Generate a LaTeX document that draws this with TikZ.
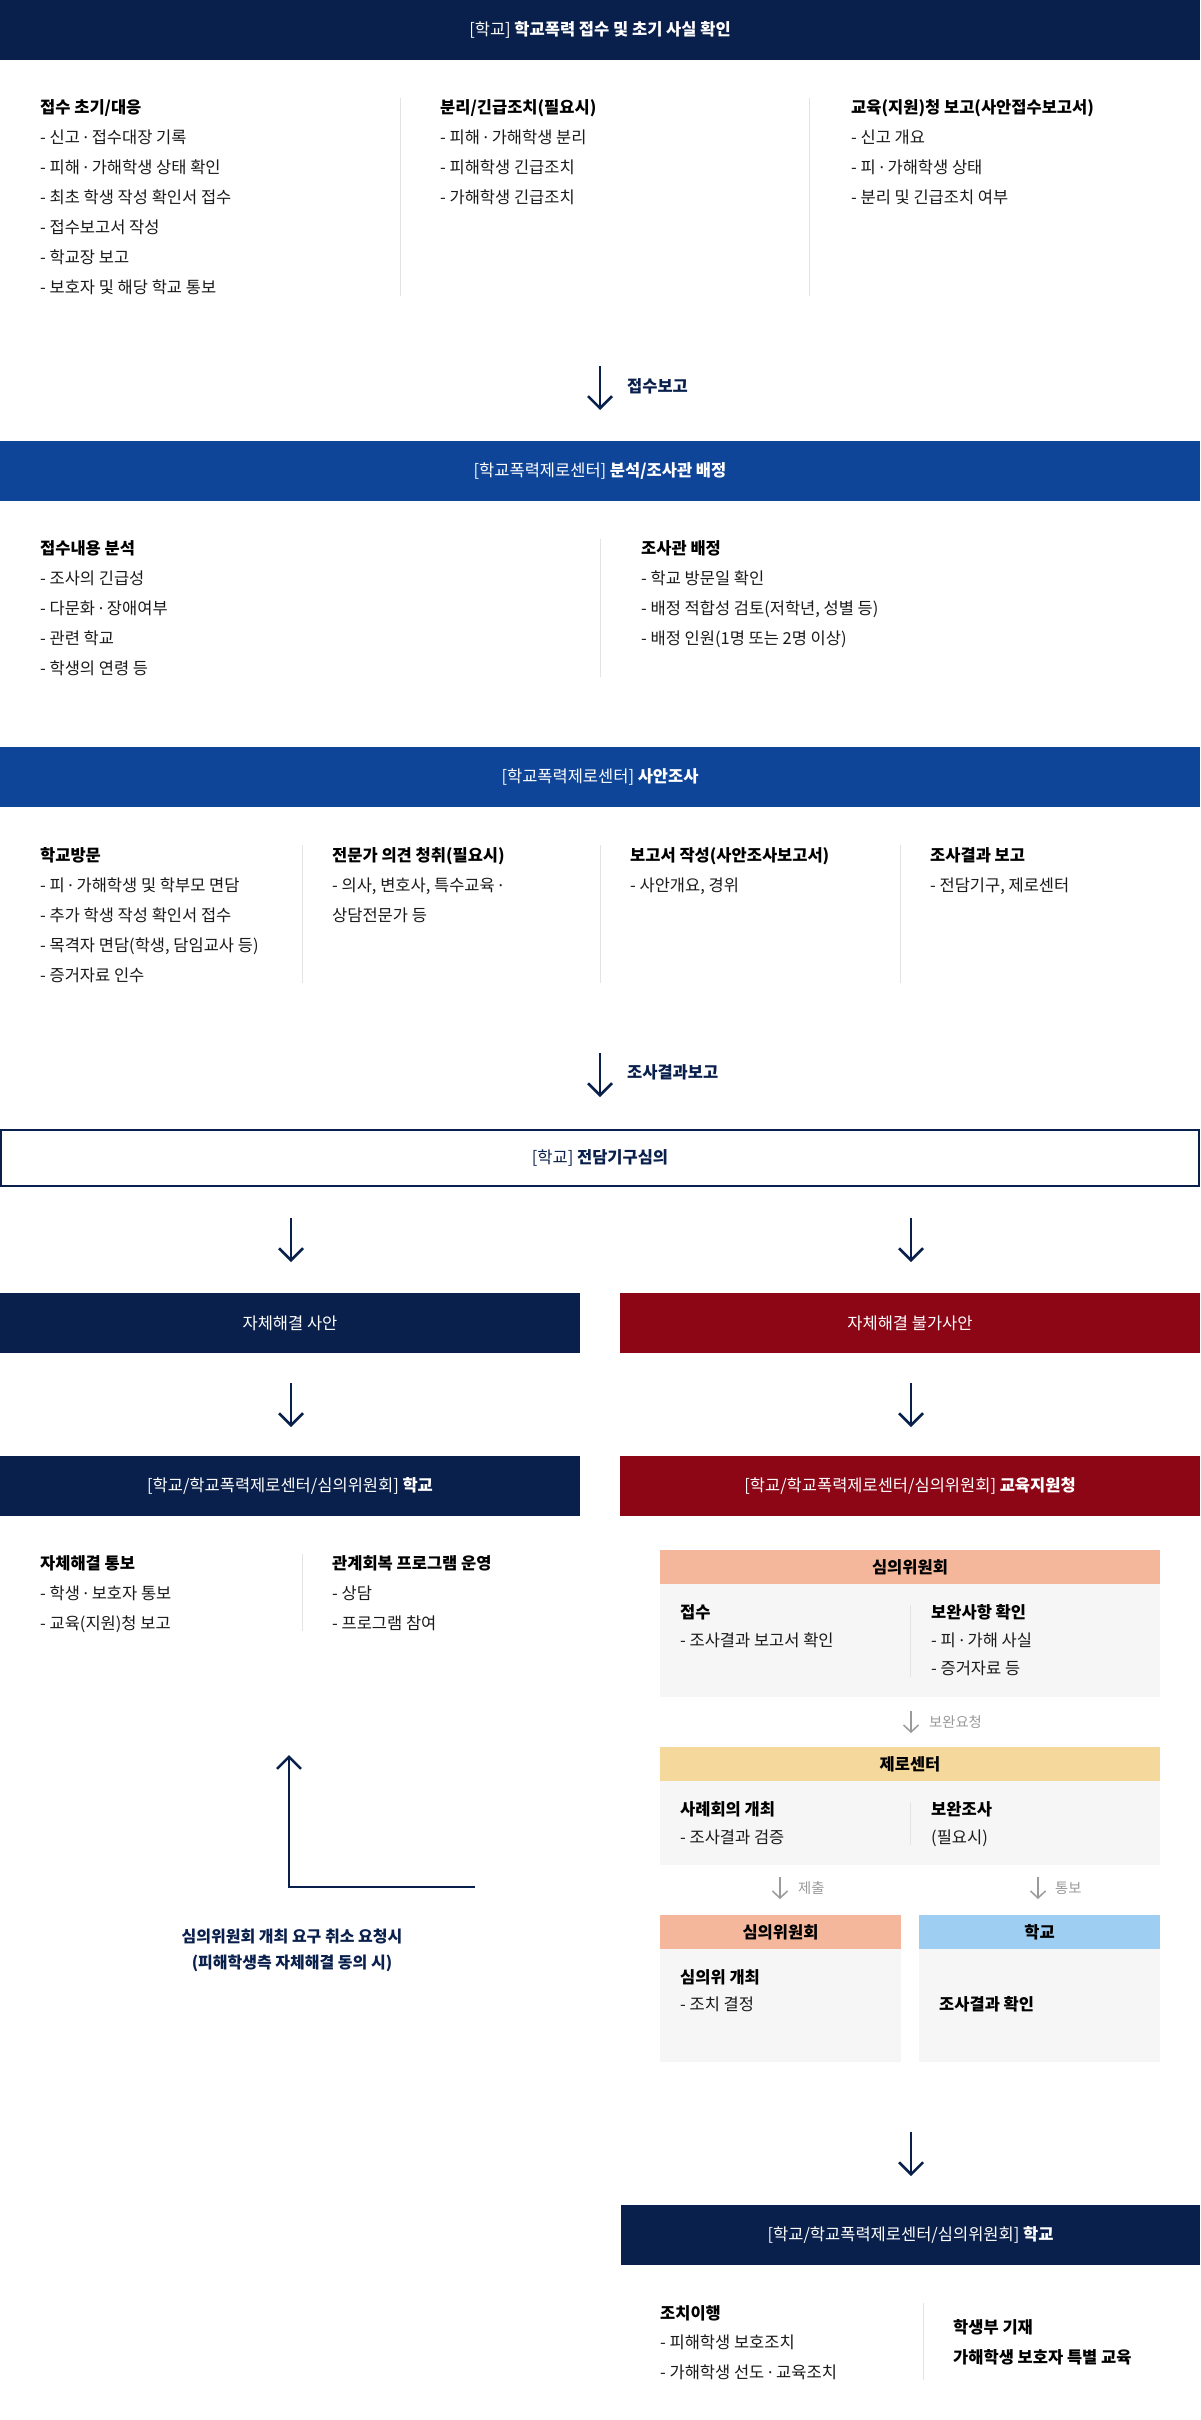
\documentclass[tikz,border=0pt]{standalone}
\usepackage{fontspec}
\setmainfont{Noto Sans CJK KR}
\newfontfamily\latinfont{Noto Sans}
\newcommand\md{{\latinfont ·}}
\usetikzlibrary{arrows.meta}
\definecolor{navy}{HTML}{0A204C}
\definecolor{barblue}{HTML}{0F4599}
\definecolor{darkred}{HTML}{8C0616}
\definecolor{pinkh}{HTML}{F4B79B}
\definecolor{yellowh}{HTML}{F4D89C}
\definecolor{blueh}{HTML}{9ECEF2}
\definecolor{panelgrey}{HTML}{F6F6F6}
\definecolor{sepgrey}{HTML}{E3E3E3}
\definecolor{arrgrey}{HTML}{9A9A9A}
\definecolor{bodytext}{HTML}{1A1A1A}
\tikzset{
  bar/.style={fill=#1, text=white, minimum height=60pt, inner sep=0pt, font=\fontsize{16.5}{20}\selectfont},
  hdr/.style={font=\fontsize{16.5}{20}\selectfont\bfseries, text=black, inner sep=0pt},
  bodyt/.style={font=\fontsize{16.5}{20}\selectfont, text=bodytext, inner sep=0pt},
  sepline/.style={draw=sepgrey, line width=1pt},
  navarrow/.style={draw=navy, line width=2.5pt, -{Straight Barb[length=12pt,width=24pt]}},
  greyarrow/.style={draw=arrgrey, line width=1.5pt, -{Straight Barb[length=7pt,width=15pt]}},
  arrlabel/.style={font=\fontsize{16.5}{20}\selectfont\bfseries, text=navy, inner sep=0pt, anchor=west},
  greylabel/.style={font=\fontsize{14.3}{17}\selectfont, text=arrgrey, inner sep=0pt, anchor=west},
  panelhead/.style={fill=#1, inner sep=0pt, minimum height=34pt, font=\fontsize{16.5}{20}\selectfont\bfseries, text=black},
}
% #1 spacing, #2 name, #3 x, #4 baseline y, #5 header, #6 lines
\newcommand\colblk[6][30]{%
  \node[hdr, anchor=base west] (#2h) at (#3,#4+0.8) {#5};
  \foreach \t [count=\i] in {#6} {\node[bodyt, anchor=base west] (#2l\i) at (#3,#4+0.8+#1*\i) {\t};}
}
\begin{document}
\begin{tikzpicture}[x=1pt,y=-1pt]
\useasboundingbox (0,0) rectangle (1200,2420);
\fill[white] (0,0) rectangle (1200,2420);

% ---------- Section 1 ----------
\node[bar=navy, minimum width=1200pt] (t1) at (600,30) {[학교] \textbf{학교폭력 접수 및 초기 사실 확인}};
\colblk{s1a}{40}{112.5}{접수 초기/대응}{- 신고 \md{} 접수대장 기록, - 피해 \md{} 가해학생 상태 확인, - 최초 학생 작성 확인서 접수, - 접수보고서 작성, - 학교장 보고, - 보호자 및 해당 학교 통보}
\colblk{s1b}{440}{112.5}{분리/긴급조치(필요시)}{- 피해 \md{} 가해학생 분리, - 피해학생 긴급조치, - 가해학생 긴급조치}
\colblk{s1c}{851}{112.5}{교육(지원)청 보고(사안접수보고서)}{- 신고 개요, - 피 \md{} 가해학생 상태, - 분리 및 긴급조치 여부}
\coordinate (s1sep1a) at (400,98); \coordinate (s1sep1b) at (400,296);
\coordinate (s1sep2a) at (809,98); \coordinate (s1sep2b) at (809,296);
\draw[sepline] (s1sep1a) -- (s1sep1b);
\draw[sepline] (s1sep2a) -- (s1sep2b);

\coordinate (a1s) at (600,366); \coordinate (a1e) at (600,410);
\draw[navarrow] (a1s) -- (a1e);
\node[arrlabel] (a1l) at (627,386) {접수보고};

% ---------- Section 2 ----------
\node[bar=barblue, minimum width=1200pt] (t2) at (600,471) {[학교폭력제로센터] \textbf{분석/조사관 배정}};
\colblk{s2a}{40}{553.5}{접수내용 분석}{- 조사의 긴급성, - 다문화 \md{} 장애여부, - 관련 학교, - 학생의 연령 등}
\colblk{s2b}{641}{553.5}{조사관 배정}{- 학교 방문일 확인, {- 배정 적합성 검토(저학년, 성별 등)}, - 배정 인원(1명 또는 2명 이상)}
\coordinate (s2sepa) at (600,539); \coordinate (s2sepb) at (600,677);
\draw[sepline] (s2sepa) -- (s2sepb);

% ---------- Section 3 ----------
\node[bar=barblue, minimum width=1200pt] (t3) at (600,777) {[학교폭력제로센터] \textbf{사안조사}};
\colblk{s3a}{40}{860.5}{학교방문}{- 피 \md{} 가해학생 및 학부모 면담, - 추가 학생 작성 확인서 접수, {- 목격자 면담(학생, 담임교사 등)}, - 증거자료 인수}
\colblk{s3b}{332}{860.5}{전문가 의견 청취(필요시)}{{- 의사, 변호사, 특수교육 \md}, 상담전문가 등}
\colblk{s3c}{630}{860.5}{보고서 작성(사안조사보고서)}{{- 사안개요, 경위}}
\colblk{s3d}{930}{860.5}{조사결과 보고}{{- 전담기구, 제로센터}}
\foreach \xx [count=\k] in {302,600,900} {
  \coordinate (s3sep\k a) at (\xx,845); \coordinate (s3sep\k b) at (\xx,983);
  \draw[sepline] (s3sep\k a) -- (s3sep\k b);
}

\coordinate (a2s) at (600,1053); \coordinate (a2e) at (600,1097);
\draw[navarrow] (a2s) -- (a2e);
\node[arrlabel] (a2l) at (627,1072) {조사결과보고};

% ---------- 전담기구심의 ----------
\node[draw=navy, line width=2pt, minimum width=1198pt, minimum height=56pt, inner sep=0pt, text=navy, font=\fontsize{16.5}{20}\selectfont] (t4) at (600,1158) {[학교] \textbf{전담기구심의}};

\coordinate (a3ls) at (291,1218); \coordinate (a3le) at (291,1262);
\coordinate (a3rs) at (911,1218); \coordinate (a3re) at (911,1262);
\draw[navarrow] (a3ls) -- (a3le);
\draw[navarrow] (a3rs) -- (a3re);

\node[bar=navy, minimum width=580pt] (l1) at (290,1323) {자체해결 사안};
\node[bar=darkred, minimum width=580pt] (r1) at (910,1323) {자체해결 불가사안};

\coordinate (a4ls) at (291,1383); \coordinate (a4le) at (291,1427);
\coordinate (a4rs) at (911,1383); \coordinate (a4re) at (911,1427);
\draw[navarrow] (a4ls) -- (a4le);
\draw[navarrow] (a4rs) -- (a4re);

\node[bar=navy, minimum width=580pt] (l2) at (290,1486) {[학교/학교폭력제로센터/심의위원회] \textbf{학교}};
\node[bar=darkred, minimum width=580pt] (r2) at (910,1486) {[학교/학교폭력제로센터/심의위원회] \textbf{교육지원청}};

% ---------- Left branch ----------
\colblk{l3a}{40}{1568.5}{자체해결 통보}{- 학생 \md{} 보호자 통보, - 교육(지원)청 보고}
\colblk{l3b}{332}{1568.5}{관계회복 프로그램 운영}{- 상담, - 프로그램 참여}
\coordinate (l3sepa) at (302,1554); \coordinate (l3sepb) at (302,1631);
\draw[sepline] (l3sepa) -- (l3sepb);

\coordinate (elbS) at (475,1887); \coordinate (elbC) at (289,1887); \coordinate (elbE) at (289,1755);
\draw[navarrow] (elbS) -- (elbC) -- (elbE);
\node[font=\fontsize{16}{26}\selectfont\bfseries, text=navy, align=center, inner sep=0pt] (elbl) at (292,1950) {심의위원회 개최 요구 취소 요청시\\(피해학생측 자체해결 동의 시)};

% ---------- Right branch panels ----------
\node[panelhead=pinkh, minimum width=500pt] (p1h) at (910,1567) {심의위원회};
\node[fill=panelgrey, minimum width=500pt, minimum height=113pt, inner sep=0pt] (p1b) at (910,1640.5) {};
\colblk[28]{p1a}{680}{1617.5}{접수}{- 조사결과 보고서 확인}
\colblk[28]{p1c}{931}{1617.5}{보완사항 확인}{- 피 \md{} 가해 사실, - 증거자료 등}
\coordinate (p1sepa) at (910,1605); \coordinate (p1sepb) at (910,1677);
\draw[sepline] (p1sepa) -- (p1sepb);

\coordinate (g1s) at (911,1711); \coordinate (g1e) at (911,1733);
\draw[greyarrow] (g1s) -- (g1e);
\node[greylabel] (g1l) at (929,1722) {보완요청};

\node[panelhead=yellowh, minimum width=500pt] (p2h) at (910,1764) {제로센터};
\node[fill=panelgrey, minimum width=500pt, minimum height=84pt, inner sep=0pt] (p2b) at (910,1823) {};
\colblk[28]{p2a}{680}{1814.5}{사례회의 개최}{- 조사결과 검증}
\colblk[28]{p2c}{931}{1814.5}{보완조사}{(필요시)}
\coordinate (p2sepa) at (910,1802); \coordinate (p2sepb) at (910,1845);
\draw[sepline] (p2sepa) -- (p2sepb);

\coordinate (g2s) at (780,1877); \coordinate (g2e) at (780,1899);
\draw[greyarrow] (g2s) -- (g2e);
\node[greylabel] (g2l) at (798,1888) {제출};
\coordinate (g3s) at (1038,1877); \coordinate (g3e) at (1038,1899);
\draw[greyarrow] (g3s) -- (g3e);
\node[greylabel] (g3l) at (1055,1888) {통보};

\node[panelhead=pinkh, minimum width=241pt] (p3h) at (780.5,1932) {심의위원회};
\node[fill=panelgrey, minimum width=241pt, minimum height=113pt, inner sep=0pt] (p3b) at (780.5,2005.5) {};
\colblk[27]{p3a}{680}{1982.5}{심의위 개최}{- 조치 결정}
\node[panelhead=blueh, minimum width=241pt] (p4h) at (1039.5,1932) {학교};
\node[fill=panelgrey, minimum width=241pt, minimum height=113pt, inner sep=0pt] (p4b) at (1039.5,2005.5) {};
\node[hdr, anchor=base west] (p4t) at (939,2010.3) {조사결과 확인};

\coordinate (a5s) at (911,2132); \coordinate (a5e) at (911,2176);
\draw[navarrow] (a5s) -- (a5e);

% ---------- Final ----------
\node[bar=navy, minimum width=579pt] (f1) at (910.5,2235) {[학교/학교폭력제로센터/심의위원회] \textbf{학교}};
\colblk[29.5]{f1a}{660}{2318.5}{조치이행}{- 피해학생 보호조치, - 가해학생 선도 \md{} 교육조치}
\node[hdr, anchor=base west] (f1b1) at (953,2333.3) {학생부 기재};
\node[hdr, anchor=base west] (f1b2) at (953,2363.3) {가해학생 보호자 특별 교육};
\coordinate (f1sepa) at (923,2303); \coordinate (f1sepb) at (923,2380);
\draw[sepline] (f1sepa) -- (f1sepb);
\end{tikzpicture}
\end{document}
